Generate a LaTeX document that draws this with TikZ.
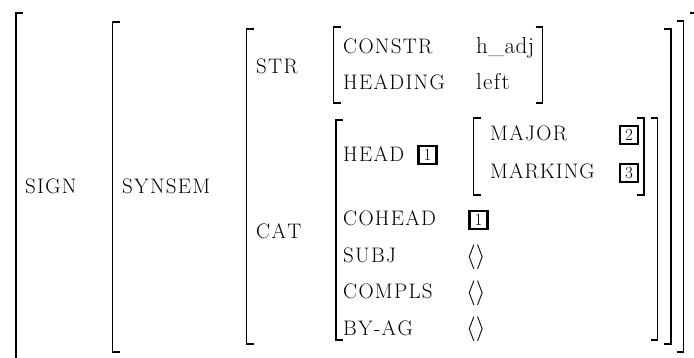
\documentclass[tikz,border=0pt]{standalone}
\usepackage{fontspec}
\ExplSyntaxOn
\NewDocumentCommand\lspaced{O{1.3pt}m}{\tl_map_inline:nn{#2}{##1\kern#1}\unkern}
\ExplSyntaxOff
\begin{document}
\begin{tikzpicture}[x=1pt,y=-1pt,
  attr/.style={anchor=base west, inner sep=0pt, font=\fontsize{21}{21}\selectfont},
  val/.style={anchor=base west, inner sep=0pt, font=\fontsize{23}{23}\selectfont},
  ang/.style={anchor=base west, inner sep=0pt, font=\fontsize{26}{26}\selectfont},
  tagbox/.style={draw, line width=2.2pt, inner sep=0pt, minimum width=18pt, minimum height=18pt, font=\fontsize{17}{17}\selectfont},
  brk/.style={line width=1.7pt},
]
\useasboundingbox (0,0) rectangle (694,358);
\clip (0,0) rectangle (694,358);
% left brackets
\draw[brk] (22.8,13.3) -- (15.8,13.3) -- (15.8,366) -- (22.8,366);
\draw[brk] (119.5,22) -- (112.5,22) -- (112.5,352) -- (119.5,352);
\draw[brk] (253.5,29) -- (246.5,29) -- (246.5,344) -- (253.5,344);
\draw[brk] (340.5,27) -- (333.5,27) -- (333.5,103) -- (340.5,103);
\draw[brk] (343,120) -- (336,120) -- (336,340) -- (343,340);
\draw[brk] (480.5,118) -- (473.5,118) -- (473.5,195) -- (480.5,195);
% right brackets
\draw[brk] (535.5,27) -- (542.5,27) -- (542.5,103) -- (535.5,103);
\draw[brk] (637,118) -- (644,118) -- (644,195) -- (637,195);
\draw[brk] (650.5,118) -- (657.5,118) -- (657.5,340) -- (650.5,340);
\draw[brk] (664,29) -- (671,29) -- (671,344) -- (664,344);
\draw[brk] (676.5,21) -- (683.5,21) -- (683.5,352) -- (676.5,352);
\draw[brk] (690,13.3) -- (697,13.3) -- (697,366) -- (690,366);
% texts
\node[attr] (sign) at (25,194) {\lspaced{SIGN}};
\node[attr] (synsem) at (122,194) {\lspaced{SYNSEM}};
\node[attr] (str) at (256,74) {\lspaced{STR}};
\node[attr] (cat) at (256,239) {\lspaced{CAT}};
\node[attr] (constr) at (343,54) {\lspaced{CONSTR}};
\node[attr] (heading) at (343,90) {\lspaced{HEADING}};
\node[val] (hadj) at (476,54) {\lspaced[0.4pt]{h\_adj}};
\node[val] (left) at (476,90) {\lspaced[1.3pt]{left}};
\node[attr] (head) at (343,162) {\lspaced{HEAD}};
\node[tagbox] (t1) at (427.5,155) {1};
\node[attr] (major) at (490,141) {\lspaced{MAJOR}};
\node[tagbox] (t2) at (629,135) {2};
\node[attr] (marking) at (490,179) {\lspaced[1pt]{MARKING}};
\node[tagbox] (t3) at (629,173) {3};
\node[attr] (cohead) at (343,226) {\lspaced{COHEAD}};
\node[tagbox] (t1b) at (478.5,220) {1};
\node[attr] (subj) at (343,263) {\lspaced{SUBJ}};
\node[ang] (subjv) at (466,264) {$\langle\rangle$};
\node[attr] (compls) at (343,299) {\lspaced{COMPLS}};
\node[ang] (complsv) at (466,300) {$\langle\rangle$};
\node[attr] (byag) at (343,335) {\lspaced{BY-AG}};
\node[ang] (byagv) at (466,336) {$\langle\rangle$};
\end{tikzpicture}
\end{document}
